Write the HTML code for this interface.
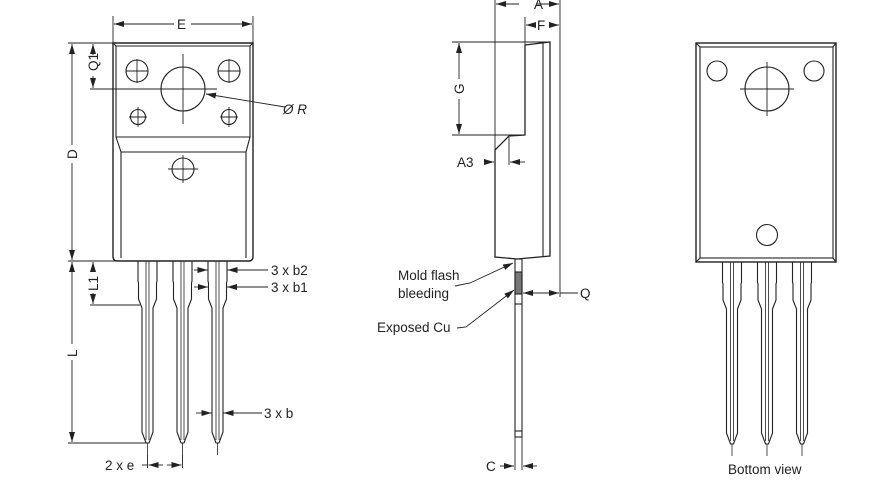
<!DOCTYPE html>
<html><head><meta charset="utf-8"><style>
html,body{margin:0;padding:0;background:#fff}
svg{display:block}
text{font-family:"Liberation Sans",sans-serif;font-size:13.5px;fill:#222}
</style></head><body>
<svg width="871" height="493" viewBox="0 0 871 493" xmlns="http://www.w3.org/2000/svg">
<defs>
<marker id="a" viewBox="0 0 10 6" refX="10" refY="3" markerWidth="10" markerHeight="6" markerUnits="userSpaceOnUse" orient="auto-start-reverse"><path d="M0,0L10,3L0,6z" fill="#222"/></marker>
<g id="lead" fill="#fff" stroke="#222" stroke-width="1.1">
<polygon points="-9.5,261 -9.5,281 -9,283 -9,299 -5.5,308 -5.5,432 -1.5,443 1.5,443 5.5,432 5.5,308 9,299 9,283 9.5,281 9.5,261"/>
<line x1="-1.5" y1="261" x2="-1.5" y2="440" stroke-width="0.8"/>
<line x1="1.5" y1="261" x2="1.5" y2="440" stroke-width="0.8"/>
<line x1="0" y1="443" x2="0" y2="455" stroke-width="0.8"/>
</g>
</defs>
<g stroke="#222" fill="none" stroke-width="1.1">
<use href="#lead" x="147.5"/><use href="#lead" x="182.5"/><use href="#lead" x="217.5"/>
<path d="M113,43 L253,43 L253,256 Q253,261 249,261 L117,261 Q113,261 113,256 Z" fill="#fff" stroke-width="1.4"/>
<path d="M116,46 L250,46 L250,137 L116,137 Z"/>
<path d="M116,137 L121,152 L121,258 M250,137 L246,152 L246,258 M121,152 L246,152"/>
<line x1="113" y1="43" x2="116" y2="46"/><line x1="253" y1="43" x2="250" y2="46"/>
<circle cx="137" cy="71" r="11"/>
<circle cx="229" cy="71" r="11"/>
<circle cx="183" cy="89" r="22"/>
<circle cx="138" cy="117" r="7.5"/><circle cx="229" cy="117" r="7.5"/>
<circle cx="183" cy="169" r="11"/>
</g>
<g stroke="#222" stroke-width="0.9">
<line x1="126" y1="71" x2="148" y2="71"/><line x1="137" y1="59" x2="137" y2="83"/>
<line x1="218" y1="71" x2="240" y2="71"/><line x1="229" y1="59" x2="229" y2="83"/>
<line x1="129" y1="117" x2="147" y2="117"/><line x1="138" y1="107" x2="138" y2="127"/>
<line x1="220" y1="117" x2="238" y2="117"/><line x1="229" y1="107" x2="229" y2="127"/>
<line x1="168" y1="169" x2="198" y2="169"/><line x1="183" y1="155" x2="183" y2="183"/>
<line x1="183" y1="54" x2="183" y2="124"/><line x1="90" y1="89" x2="217" y2="89"/>
<line x1="113" y1="16" x2="113" y2="43"/><line x1="253" y1="16" x2="253" y2="43"/>
<line x1="114" y1="24" x2="174" y2="24" marker-start="url(#a)"/><line x1="191" y1="24" x2="252" y2="24" marker-end="url(#a)"/>
<line x1="68" y1="43" x2="113" y2="43"/>
<line x1="72" y1="44" x2="72" y2="145" marker-start="url(#a)"/><line x1="72" y1="163" x2="72" y2="260" marker-end="url(#a)"/>
<line x1="93" y1="44" x2="93" y2="55" marker-start="url(#a)"/><line x1="93" y1="76" x2="93" y2="88" marker-end="url(#a)"/>
<line x1="285" y1="107" x2="206" y2="94" marker-end="url(#a)"/>
<line x1="68" y1="261" x2="117" y2="261"/>
<line x1="72" y1="262" x2="72" y2="344" marker-start="url(#a)"/><line x1="72" y1="360" x2="72" y2="442" marker-end="url(#a)"/>
<line x1="93" y1="262" x2="93" y2="270" marker-start="url(#a)"/><line x1="93" y1="293" x2="93" y2="304" marker-end="url(#a)"/>
<line x1="90" y1="305" x2="140" y2="305"/><line x1="68" y1="443" x2="146" y2="443"/>
<line x1="147.5" y1="455" x2="147.5" y2="468"/><line x1="182.5" y1="455" x2="182.5" y2="468"/>
<line x1="142" y1="465" x2="147.5" y2="465"/>
<line x1="163" y1="465" x2="148.5" y2="465" marker-end="url(#a)"/><line x1="167" y1="465" x2="181.5" y2="465" marker-end="url(#a)"/>
<line x1="194" y1="270" x2="207.5" y2="270" marker-end="url(#a)"/><line x1="268" y1="270" x2="227.5" y2="270" marker-end="url(#a)"/>
<line x1="194" y1="287" x2="208" y2="287" marker-end="url(#a)"/><line x1="268" y1="287" x2="227" y2="287" marker-end="url(#a)"/>
<line x1="196" y1="413" x2="211.5" y2="413" marker-end="url(#a)"/><line x1="262" y1="413" x2="223.5" y2="413" marker-end="url(#a)"/>
</g>
<text x="177" y="29">E</text>
<text transform="translate(98,71) rotate(-90)" font-size="12">Q1</text>
<text transform="translate(77,159) rotate(-90)">D</text>
<text transform="translate(98,291) rotate(-90)" font-size="12">L1</text>
<text transform="translate(77,357) rotate(-90)">L</text>
<text x="283" y="114" font-style="italic">Ø R</text>
<text x="271" y="275">3 x b2</text>
<text x="271" y="292">3 x b1</text>
<text x="264" y="418">3 x b</text>
<text x="105" y="470">2 x e</text>

<g stroke="#222" fill="none" stroke-width="1.1">
<rect x="515" y="259" width="7" height="178" fill="#fff"/>
<rect x="515" y="272" width="7" height="22" fill="#777"/>
<line x1="515" y1="304" x2="522" y2="304"/><line x1="515" y1="431" x2="522" y2="431"/>
<path d="M525,45 L550,42 L550,256 L517,259 L495,257 L495,150 L509,136 L525,135 Z" fill="#fff" stroke-width="1.3"/>
<line x1="543" y1="43" x2="543" y2="257"/>
</g>
<g stroke="#222" stroke-width="0.9">
<line x1="495" y1="0" x2="495" y2="150"/><line x1="560" y1="0" x2="560" y2="297"/>
<line x1="496" y1="4" x2="519" y2="4" marker-start="url(#a)"/><line x1="536" y1="4" x2="559" y2="4" marker-end="url(#a)"/>
<line x1="525" y1="17" x2="525" y2="45"/>
<line x1="526" y1="25" x2="534" y2="25" marker-start="url(#a)"/><line x1="550" y1="25" x2="559" y2="25" marker-end="url(#a)"/>
<line x1="452" y1="42" x2="548" y2="42"/><line x1="452" y1="135" x2="525" y2="135"/>
<line x1="459" y1="43" x2="459" y2="79" marker-start="url(#a)"/><line x1="459" y1="99" x2="459" y2="134" marker-end="url(#a)"/>
<line x1="509" y1="137" x2="509" y2="165"/>
<line x1="484" y1="162" x2="494" y2="162" marker-end="url(#a)"/><line x1="525" y1="162" x2="510" y2="162" marker-end="url(#a)"/>
<line x1="546" y1="293" x2="523" y2="293" marker-end="url(#a)"/><line x1="540" y1="293" x2="559" y2="293" marker-end="url(#a)"/>
<line x1="560" y1="293" x2="578" y2="293"/>
<polyline points="455,286 470,283 513,263" fill="none" marker-end="url(#a)"/>
<polyline points="457,328 466,327 514,290" fill="none" marker-end="url(#a)"/>
<line x1="515" y1="437" x2="515" y2="470"/><line x1="522" y1="437" x2="522" y2="470"/>
<line x1="500" y1="466" x2="514" y2="466" marker-end="url(#a)"/><line x1="537" y1="466" x2="523" y2="466" marker-end="url(#a)"/>
</g>
<text x="534" y="9">A</text>
<text x="537" y="30">F</text>
<text transform="translate(464,94) rotate(-90)">G</text>
<text x="457" y="167">A3</text>
<text x="580" y="298">Q</text>
<text x="398" y="280">Mold flash</text>
<text x="398" y="298">bleeding</text>
<text x="377" y="332">Exposed Cu</text>
<text x="486" y="471">C</text>

<g stroke="#222" fill="none" stroke-width="1.1">
<use href="#lead" x="732" y="1"/><use href="#lead" x="767" y="1"/><use href="#lead" x="802" y="1"/>
<rect x="696" y="43" width="140" height="219" fill="#fff" stroke-width="1.4"/>
<rect x="700" y="47" width="133" height="211"/>
<line x1="696" y1="43" x2="700" y2="47"/><line x1="836" y1="43" x2="833" y2="47"/>
<line x1="696" y1="262" x2="700" y2="258"/><line x1="836" y1="262" x2="833" y2="258"/>
<circle cx="717" cy="71" r="10"/><circle cx="814" cy="71" r="10"/>
<circle cx="767" cy="89" r="22"/><circle cx="767" cy="235" r="10.5"/>
</g>
<g stroke="#222" stroke-width="0.9">
<line x1="740" y1="89" x2="794" y2="89"/><line x1="767" y1="62" x2="767" y2="116"/>
</g>
<text x="728" y="474" font-size="13">Bottom view</text>
</svg>
</body></html>
